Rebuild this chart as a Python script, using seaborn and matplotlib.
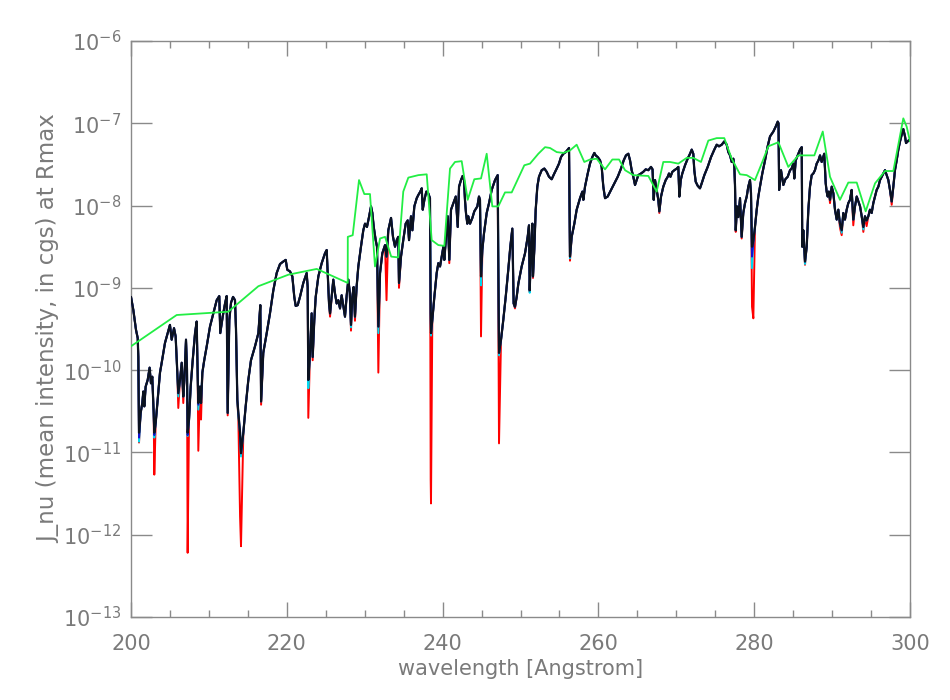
import matplotlib
matplotlib.use("Agg")
import matplotlib.pyplot as plt
import matplotlib.ticker as mticker
import numpy as np
import pandas as pd
import seaborn as sns

# wavelength [Angstrom] and log10(J_nu) for the main (black) spectrum
black_wl = [
    200.00, 200.30, 200.64, 200.86, 200.94, 201.03, 201.24, 201.45, 201.58, 201.71,
    201.88, 202.14, 202.39, 202.56, 202.73, 202.91, 202.99, 203.17, 203.42, 203.72,
    203.94, 204.36, 204.71, 205.00, 205.22, 205.52, 205.73, 205.94, 206.07, 206.29,
    206.51, 206.71, 206.85, 207.06, 207.19, 207.27, 207.45, 207.66, 207.92, 208.22,
    208.43, 208.56, 208.64, 208.86, 208.99, 209.16, 209.40, 209.72, 210.14, 210.57,
    211.00, 211.33, 211.46, 211.77, 212.07, 212.28, 212.41, 212.62, 212.84, 213.10,
    213.35, 213.48, 213.65, 213.78, 214.00, 214.12, 214.42, 214.72, 215.06, 215.40,
    215.92, 216.35, 216.60, 216.70, 216.98, 217.42, 217.84, 218.27, 218.70, 219.13,
    219.55, 219.86, 220.06, 220.41, 220.71, 220.96, 221.14, 221.40, 221.69, 222.12,
    222.55, 222.68, 222.76, 222.98, 223.19, 223.32, 223.53, 223.71, 224.05, 224.48,
    224.90, 225.12, 225.25, 225.42, 225.55, 225.76, 225.97, 226.19, 226.40, 226.61,
    226.83, 227.04, 227.25, 227.47, 227.69, 227.90, 228.08, 228.24, 228.41, 228.58,
    228.75, 228.96, 229.18, 229.52, 229.82, 230.04, 230.29, 230.55, 230.81, 230.98,
    231.16, 231.41, 231.58, 231.75, 231.97, 232.26, 232.61, 232.80, 233.03, 233.38,
    233.63, 233.89, 234.11, 234.31, 234.40, 234.66, 234.95, 235.26, 235.52, 235.69,
    235.94, 236.12, 236.37, 236.68, 236.89, 237.14, 237.32, 237.45, 237.66, 237.91,
    238.15, 238.38, 238.47, 238.51, 238.68, 238.94, 239.24, 239.45, 239.67, 239.89,
    240.10, 240.22, 240.44, 240.66, 240.86, 241.08, 241.38, 241.69, 241.94, 242.11,
    242.36, 242.57, 242.75, 242.87, 243.00, 243.17, 243.30, 243.52, 243.82, 244.07,
    244.46, 244.67, 244.80, 244.93, 245.10, 245.31, 245.66, 245.96, 246.30, 246.73,
    247.07, 247.24, 247.50, 247.79, 248.10, 248.43, 248.69, 248.95, 249.12, 249.29,
    249.51, 249.72, 250.15, 250.58, 250.92, 251.09, 251.18, 251.35, 251.52, 251.60,
    251.77, 251.95, 252.16, 252.37, 252.72, 253.06, 253.36, 253.66, 254.00, 254.34,
    254.65, 254.94, 255.20, 255.50, 255.81, 256.06, 256.23, 256.35, 256.57, 256.91,
    257.21, 257.64, 257.94, 258.07, 258.28, 258.63, 258.92, 259.22, 259.48, 259.65,
    259.91, 260.21, 260.42, 260.63, 260.85, 261.19, 261.62, 262.05, 262.48, 262.90,
    263.25, 263.54, 263.84, 264.06, 264.27, 264.48, 264.70, 264.91, 265.12, 265.47,
    265.76, 266.07, 266.41, 266.75, 266.95, 267.10, 267.27, 267.48, 267.69, 267.82,
    268.04, 268.33, 268.64, 268.90, 269.06, 269.25, 269.49, 269.75, 270.06, 270.26,
    270.39, 270.57, 270.77, 271.12, 271.46, 271.76, 271.98, 272.18, 272.31, 272.49,
    272.75, 273.04, 273.26, 273.60, 274.03, 274.46, 274.88, 275.19, 275.48, 275.83,
    276.16, 276.47, 276.68, 276.90, 277.11, 277.32, 277.45, 277.54, 277.63, 277.79,
    277.96, 278.18, 278.39, 278.60, 278.82, 279.04, 279.24, 279.46, 279.59, 279.72,
    279.89, 280.10, 280.32, 280.53, 280.74, 281.04, 281.39, 281.73, 282.03, 282.46,
    282.76, 283.02, 283.12, 283.20, 283.44, 283.74, 284.00, 284.30, 284.60, 284.80,
    285.02, 285.15, 285.33, 285.59, 285.88, 286.10, 286.17, 286.30, 286.52, 286.74,
    286.95, 287.16, 287.38, 287.59, 287.80, 288.02, 288.25, 288.45, 288.66, 288.86,
    288.99, 289.18, 289.30, 289.43, 289.58, 289.73, 289.95, 290.16, 290.37, 290.59,
    290.80, 291.01, 291.23, 291.44, 291.65, 291.87, 292.08, 292.30, 292.51, 292.72,
    292.94, 293.16, 293.38, 293.59, 293.80, 294.01, 294.22, 294.43, 294.65, 294.86,
    295.08, 295.29, 295.51, 295.72, 295.94, 296.15, 296.37, 296.58, 296.79, 297.00,
    297.22, 297.43, 297.65, 297.86, 298.07, 298.29, 298.50, 298.72, 298.93, 299.14,
    299.36, 299.49, 299.70, 299.91, 300.00,
]
black_log = [
    -9.11, -9.27, -9.51, -9.61, -9.84, -10.76, -10.52, -10.40, -10.26, -10.44,
    -10.20, -10.12, -9.97, -10.16, -10.08, -10.52, -10.76, -10.64, -10.36, -10.03,
    -9.91, -9.67, -9.55, -9.45, -9.63, -9.49, -9.59, -10.03, -10.28, -10.12,
    -9.91, -10.32, -10.12, -9.63, -10.00, -10.76, -10.60, -10.20, -9.88, -9.55,
    -9.41, -10.08, -10.40, -10.20, -10.40, -10.03, -9.88, -9.71, -9.47, -9.31,
    -9.15, -9.10, -9.55, -9.35, -9.19, -9.10, -10.52, -9.39, -9.18, -9.11,
    -9.15, -9.51, -10.36, -10.52, -10.76, -11.01, -10.76, -10.44, -10.12, -9.88,
    -9.71, -9.55, -9.21, -10.38, -9.79, -9.55, -9.31, -9.03, -8.82, -8.71,
    -8.68, -8.66, -8.78, -8.80, -8.86, -9.11, -9.22, -9.21, -9.11, -8.94,
    -8.82, -8.99, -10.12, -9.79, -9.31, -9.84, -9.39, -9.11, -8.86, -8.70,
    -8.58, -8.54, -8.82, -9.19, -9.31, -9.11, -8.90, -9.07, -9.19, -9.15,
    -9.25, -9.09, -9.22, -9.35, -9.09, -8.90, -9.05, -9.45, -9.11, -8.99,
    -9.35, -8.99, -8.74, -8.50, -8.30, -8.22, -8.26, -8.14, -8.01, -8.09,
    -8.26, -8.42, -8.50, -9.47, -8.82, -8.58, -8.48, -8.62, -8.30, -8.15,
    -8.38, -8.50, -8.42, -8.38, -8.94, -8.62, -8.42, -8.22, -8.18, -8.42,
    -8.13, -8.30, -8.01, -7.91, -7.87, -7.83, -7.79, -8.05, -7.93, -7.83,
    -7.85, -7.91, -9.31, -9.55, -9.39, -9.11, -8.82, -8.70, -8.74, -8.62,
    -8.50, -8.66, -8.38, -8.13, -8.66, -8.05, -7.97, -7.89, -8.26, -7.77,
    -7.69, -7.64, -7.69, -7.93, -8.09, -8.22, -8.13, -8.22, -8.15, -8.07,
    -8.01, -7.89, -7.93, -8.86, -8.54, -8.34, -8.09, -7.97, -7.81, -7.69,
    -7.63, -9.79, -9.63, -9.39, -9.11, -8.78, -8.50, -8.28, -9.19, -9.23,
    -9.11, -8.95, -8.74, -8.58, -8.38, -8.24, -9.03, -8.54, -8.22, -8.86,
    -8.54, -8.05, -7.77, -7.65, -7.57, -7.55, -7.59, -7.65, -7.68, -7.61,
    -7.55, -7.49, -7.41, -7.37, -7.35, -7.32, -7.30, -8.62, -8.38, -8.22,
    -8.05, -7.91, -7.83, -7.93, -7.77, -7.61, -7.49, -7.41, -7.36, -7.39,
    -7.41, -7.45, -7.53, -7.77, -7.91, -7.89, -7.81, -7.73, -7.65, -7.55,
    -7.45, -7.39, -7.37, -7.45, -7.57, -7.65, -7.75, -7.69, -7.63, -7.61,
    -7.59, -7.56, -7.57, -7.53, -7.56, -7.93, -7.69, -7.81, -7.93, -8.07,
    -7.89, -7.77, -7.69, -7.65, -7.61, -7.65, -7.59, -7.57, -7.55, -7.53,
    -7.89, -7.69, -7.61, -7.51, -7.43, -7.37, -7.32, -7.37, -7.57, -7.71,
    -7.76, -7.79, -7.73, -7.63, -7.53, -7.41, -7.32, -7.26, -7.28, -7.26,
    -7.22, -7.26, -7.35, -7.39, -7.47, -7.43, -7.53, -7.77, -8.30, -8.01,
    -8.14, -7.91, -8.38, -8.09, -7.97, -7.89, -7.77, -7.69, -7.85, -8.50,
    -8.42, -8.26, -8.05, -7.89, -7.77, -7.61, -7.45, -7.28, -7.16, -7.10,
    -7.04, -6.98, -7.00, -7.81, -7.57, -7.75, -7.68, -7.65, -7.57, -7.55,
    -7.49, -7.67, -7.45, -7.39, -7.32, -7.29, -8.50, -8.30, -8.68, -8.50,
    -8.05, -7.77, -7.63, -7.61, -7.57, -7.49, -7.45, -7.39, -7.47, -7.41,
    -7.37, -7.73, -7.83, -7.89, -7.83, -7.93, -7.77, -7.85, -8.05, -8.17,
    -8.05, -8.22, -8.30, -8.09, -8.17, -8.05, -7.97, -7.93, -7.81, -8.17,
    -8.01, -7.89, -7.95, -8.01, -8.13, -8.26, -8.13, -8.18, -8.13, -8.05,
    -8.09, -7.97, -7.89, -7.81, -7.77, -7.69, -7.65, -7.61, -7.57, -7.63,
    -7.69, -7.81, -7.95, -7.77, -7.57, -7.45, -7.32, -7.22, -7.14, -7.07,
    -7.16, -7.24, -7.22, -7.20, -7.20,
]

# deeper line cores of the other models (wavelength, log10 J)
red_dip_wl = [201.03, 202.99, 206.07, 206.71, 207.27, 208.64, 208.99, 212.41, 213.78, 214.00,
              214.12, 216.70, 222.76, 223.32, 225.55, 228.24, 228.75, 231.75, 232.80, 234.40,
              238.47, 238.51, 240.86, 244.93, 247.24, 249.29, 251.18, 251.60, 256.35, 267.82,
              277.63, 278.39, 279.72, 279.89, 286.52, 289.73, 291.01, 291.23, 292.72, 294.01,
              294.43, 297.65]
red_dip_log = [-10.88, -11.27, -10.46, -10.40, -12.22, -10.98, -10.60, -10.55, -10.60, -11.78,
               -12.14, -10.42, -10.58, -9.88, -9.35, -9.52, -9.40, -10.03, -9.15, -9.00,
               -11.33, -11.62, -8.70, -9.59, -10.89, -9.25, -9.05, -8.88, -8.67, -8.09,
               -8.32, -8.40, -9.23, -9.37, -8.72, -7.97, -8.27, -8.36, -8.24, -8.32,
               -8.25, -7.99]
cyan_dip_wl = [201.03, 202.99, 206.07, 207.27, 208.64, 213.78, 214.12, 222.76, 228.24, 231.75,
               238.51, 244.93, 247.24, 251.18, 256.35, 279.72, 286.52, 291.23, 294.01]
cyan_dip_log = [-10.87, -10.82, -10.32, -10.80, -10.48, -10.56, -11.05, -10.22, -9.48, -9.55,
                -9.58, -8.97, -9.82, -9.06, -8.64, -8.76, -8.71, -8.33, -8.29]
blue_dip_wl = [201.03, 202.99, 207.27, 208.64, 279.72, 279.89]
blue_dip_log = [-10.82, -10.79, -10.79, -10.42, -8.62, -8.45]

# coarse comparison spectrum (green)
green_wl = [
    200.00, 205.86, 212.48, 216.35, 220.20, 223.84, 227.82, 227.83, 228.46, 229.27,
    229.95, 230.68, 231.32, 231.97, 232.61, 233.40, 234.30, 234.95, 235.60, 236.89,
    237.96, 238.60, 239.45, 240.22, 240.95, 241.59, 242.45, 243.22, 244.07, 244.93,
    245.66, 246.38, 247.15, 248.01, 248.87, 250.49, 251.22, 252.29, 253.15, 253.79,
    254.65, 255.50, 256.35, 257.21, 258.19, 258.92, 259.78, 260.85, 261.79, 262.65,
    263.42, 264.48, 266.41, 267.48, 268.33, 269.19, 270.26, 271.34, 272.18, 273.17,
    274.11, 275.19, 276.16, 277.11, 278.18, 279.04, 280.10, 281.04, 281.81, 283.10,
    284.38, 285.67, 287.72, 288.80, 289.73, 291.01, 292.08, 293.16, 294.31, 295.51,
    296.79, 297.86, 299.14, 299.57, 300.00,
]
green_log = [
    -9.71, -9.33, -9.29, -8.98, -8.84, -8.77, -8.94, -8.38, -8.36, -7.69,
    -7.86, -7.86, -8.74, -8.40, -8.38, -8.62, -8.63, -7.83, -7.66, -7.63,
    -7.62, -8.42, -8.48, -8.49, -7.55, -7.47, -7.46, -7.93, -7.68, -7.67,
    -7.37, -8.01, -8.01, -7.84, -7.84, -7.51, -7.49, -7.37, -7.29, -7.30,
    -7.35, -7.36, -7.33, -7.26, -7.47, -7.44, -7.43, -7.56, -7.44, -7.44,
    -7.57, -7.63, -7.64, -7.83, -7.47, -7.47, -7.49, -7.42, -7.42, -7.47,
    -7.21, -7.18, -7.18, -7.43, -7.62, -7.63, -7.69, -7.47, -7.28, -7.23,
    -7.53, -7.39, -7.39, -7.10, -7.65, -7.93, -7.72, -7.72, -8.07, -7.73,
    -7.58, -7.58, -6.94, -7.04, -7.22,
]

y_ticks = [1e-13, 1e-12, 1e-11, 1e-10, 1e-9, 1e-8, 1e-7, 1e-6]
x_ticks = [200, 220, 240, 260, 280, 300]


def with_dips(base_wl, base_log, dip_wl, dip_log):
    wl = np.asarray(base_wl, dtype=float)
    vals = np.asarray(base_log, dtype=float).copy()
    for w, v in zip(dip_wl, dip_log):
        i = int(np.argmin(np.abs(wl - w)))
        vals[i] = min(vals[i], v)
    return vals


def main() -> None:
    sns.set_theme(style="white")
    plt.rcParams["font.family"] = ["DejaVu Sans"]
    grey = "#7a7a7a"

    frames = []
    for name, logs in [
        ("red", with_dips(black_wl, black_log, red_dip_wl, red_dip_log)),
        ("cyan", with_dips(black_wl, black_log, cyan_dip_wl, cyan_dip_log)),
        ("blue", with_dips(black_wl, black_log, blue_dip_wl, blue_dip_log)),
        ("black", np.asarray(black_log, dtype=float)),
    ]:
        frames.append(pd.DataFrame({"wl": black_wl, "J": 10.0 ** logs, "model": name}))
    frames.append(pd.DataFrame({"wl": green_wl, "J": 10.0 ** np.asarray(green_log), "model": "green"}))
    df = pd.concat(frames, ignore_index=True)

    fig = plt.figure(figsize=(9.5, 7.0), dpi=100)
    ax = fig.add_axes([0.1379, 0.1186, 0.8200, 0.8228])

    styles = {
        "red": ("#ff0000", 1.4, 1),
        "cyan": ("#00d8f0", 1.4, 2),
        "blue": ("#1010d0", 1.4, 3),
        "black": ("#0b1220", 1.6, 4),
        "green": ("#22ee44", 1.3, 5),
    }
    for name, (col, lw, z) in styles.items():
        sub = df[df["model"] == name]
        sns.lineplot(data=sub, x="wl", y="J", ax=ax, color=col, linewidth=lw,
                     sort=False, estimator=None, zorder=z, legend=False)

    ax.set_yscale("log")
    ax.set_xlim(200, 300)
    ax.set_ylim(1e-13, 1e-6)
    ax.set_yticks(y_ticks)
    ax.yaxis.set_minor_locator(mticker.NullLocator())
    ax.set_xticks(x_ticks)
    ax.xaxis.set_minor_locator(mticker.MultipleLocator(5))

    for sp in ax.spines.values():
        sp.set_color("#8a8a8a")
        sp.set_linewidth(1.0)
    ax.tick_params(axis="y", which="major", direction="in", length=15, width=1,
                   color="#8a8a8a", left=True, right=True, labelsize=15,
                   labelcolor=grey, pad=7)
    ax.tick_params(axis="x", which="major", direction="in", length=11, width=1,
                   color="#8a8a8a", bottom=True, top=True, labelsize=15,
                   labelcolor=grey, pad=12)
    ax.tick_params(axis="x", which="minor", direction="in", length=5, width=1,
                   color="#8a8a8a", bottom=True, top=True)

    ax.set_xlabel("wavelength [Angstrom]", fontsize=15, color=grey, labelpad=4)
    ax.set_ylabel("J_nu (mean intensity, in cgs) at Rmax", fontsize=16.5, color=grey, labelpad=2)
    ax.grid(False)

    fig.savefig("out.png", dpi=100)
    plt.close(fig)


if __name__ == "__main__":
    main()
